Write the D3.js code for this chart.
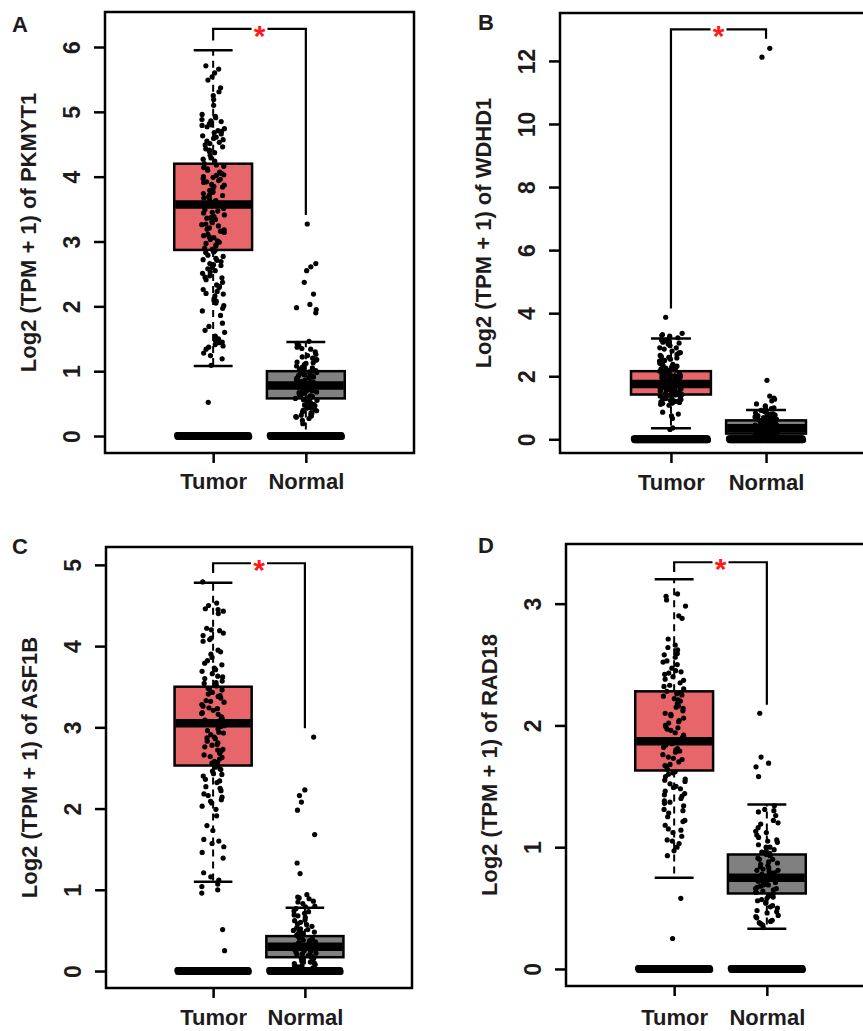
<!DOCTYPE html>
<html>
<head>
<meta charset="utf-8">
<script src="https://cdn.jsdelivr.net/npm/d3@7"></script>
<style>
  body { margin: 0; background: #fff; }
  text { font-family: "Liberation Sans", Arial, sans-serif; font-weight: bold; fill: #1e1b1c; }
</style>
</head>
<body>
<script>
// ---- data ----
var categories = ["Tumor", "Normal"];
var genes = ["PKMYT1", "WDHD1", "ASF1B", "RAD18"];
var panelLetters = ["A", "B", "C", "D"];

var yTicksA = [0, 1, 2, 3, 4, 5, 6];
var yTicksB = [0, 2, 4, 6, 8, 10, 12];
var yTicksC = [0, 1, 2, 3, 4, 5];
var yTicksD = [0, 1, 2, 3];

// [lower whisker, Q1, median, Q3, upper whisker] for Tumor, Normal
var boxStatsA = [[1.08, 2.87, 3.57, 4.2, 5.95], [0, 0.58, 0.78, 1.0, 1.45]];
var boxStatsB = [[0.35, 1.42, 1.75, 2.16, 3.2], [0, 0.18, 0.35, 0.6, 0.93]];
var boxStatsC = [[1.1, 2.53, 3.05, 3.5, 4.78], [0, 0.17, 0.3, 0.43, 0.78]];
var boxStatsD = [[0.75, 1.63, 1.87, 2.28, 3.2], [0.33, 0.62, 0.75, 0.94, 1.35]];

// number of samples sitting at 0 (Tumor, Normal)
var zerosA = [170, 160];
var zerosB = [170, 160];
var zerosC = [170, 160];
var zerosD = [170, 160];

// significance bracket: [top, left end, right end]
var bracketA = [6.28, 6.1, 3.41];
var bracketB = [13.0, 4.15, 12.7];
var bracketC = [5.02, 4.9, 2.99];
var bracketD = [3.34, 3.26, 2.17];

var tumorA = [5.71, 5.66, 5.6, 5.54, 5.49, 5.37, 5.31, 5.25, 5.19, 5.1,
  4.96, 4.93, 4.91, 4.86, 4.85, 4.82, 4.8, 4.77, 4.74, 4.71, 4.7, 4.66, 4.63, 4.61, 4.57, 4.55,
  4.53, 4.49, 4.46, 4.43, 4.41, 4.37, 4.33, 4.29, 4.24, 4.2, 4.18, 4.16, 4.12, 4.1, 4.07, 4.05,
  4.02, 4.0, 3.99, 3.96, 3.94, 3.91, 3.88, 3.87, 3.84, 3.81, 3.79, 3.76, 3.74, 3.71, 3.69, 3.66,
  3.63, 3.62, 3.59, 3.56, 3.54, 3.51, 3.49, 3.47, 3.44, 3.41, 3.39, 3.37, 3.34, 3.31, 3.29, 3.26,
  3.24, 3.21, 3.19, 3.16, 3.14, 3.11, 3.09, 3.06, 3.03, 3.01, 2.99, 2.95, 2.93, 2.9, 2.88, 2.86,
  2.83, 2.79, 2.77, 2.74, 2.71, 2.69, 2.66, 2.63, 2.6, 2.58, 2.55, 2.51, 2.47, 2.44, 2.41, 2.37,
  2.33, 2.29, 2.26, 2.23, 2.19, 2.16, 2.12, 2.08, 2.05, 2.01, 1.97, 1.93, 1.86, 1.74, 1.69, 1.63,
  1.6, 1.54, 1.5, 1.47, 1.44, 1.41, 1.37, 1.34, 1.28, 1.24, 1.19, 1.09, 0.52,
  4.88, 4.79, 4.68, 4.59, 4.51, 4.39, 4.27, 4.14, 4.03, 3.97, 3.92, 3.85, 3.78, 3.72, 3.67, 3.61,
  3.55, 3.45, 3.36, 3.27, 3.18, 3.07, 2.97, 2.84, 2.72, 2.64, 2.53, 2.45, 2.31, 2.2, 2.09, 1.45, 1.39];
var normalA = [3.27, 2.66, 2.61, 2.55, 2.37, 2.19, 2.03, 1.98, 1.95, 1.9,
  1.46, 1.43, 1.4, 1.37, 1.34, 1.3, 1.26, 1.22, 1.2, 1.17, 1.14, 1.12, 1.1, 1.08, 1.06, 1.04,
  1.03, 1.01, 1.0, 0.98, 0.97, 0.96, 0.94, 0.93, 0.92, 0.9, 0.89, 0.88, 0.86, 0.85, 0.84, 0.83,
  0.82, 0.81, 0.8, 0.79, 0.78, 0.77, 0.76, 0.75, 0.74, 0.73, 0.72, 0.71, 0.7, 0.69, 0.68, 0.67,
  0.66, 0.65, 0.63, 0.62, 0.61, 0.59, 0.58, 0.56, 0.55, 0.53, 0.51, 0.49, 0.47, 0.45, 0.43, 0.41,
  0.39, 0.37, 0.35, 0.33, 0.31, 0.29, 0.27, 0.24, 0.19,
  1.05, 0.99, 0.95, 0.91, 0.87, 0.84, 0.8, 0.78, 0.76, 0.73, 0.7, 0.68, 0.64, 0.6, 0.57, 0.52,
  0.48, 0.44, 0.4, 0.36, 0.32, 0.3, 1.13, 1.18, 1.24, 1.35];

var tumorB = [3.87, 3.36, 3.3, 3.27, 3.22, 3.17, 3.12, 3.08, 3.02, 2.97, 2.9, 2.86, 2.8, 2.74,
  2.69, 2.66, 2.62, 2.58, 2.54, 2.5, 2.47, 2.44, 2.41, 2.38, 2.35, 2.32, 2.29, 2.26, 2.23, 2.2,
  2.18, 2.16, 2.14, 2.12, 2.1, 2.08, 2.06, 2.04, 2.02, 2.0, 1.98, 1.96, 1.94, 1.92, 1.9, 1.88,
  1.86, 1.84, 1.82, 1.8, 1.78, 1.76, 1.74, 1.72, 1.7, 1.68, 1.66, 1.64, 1.62, 1.6, 1.58, 1.56,
  1.54, 1.52, 1.5, 1.48, 1.46, 1.44, 1.42, 1.4, 1.38, 1.35, 1.32, 1.29, 1.26, 1.23, 1.2, 1.17,
  1.14, 1.11, 1.08, 0.86, 0.8, 0.74, 0.66, 0.36, 0.31,
  2.9, 2.75, 2.6, 2.48, 2.4, 2.3, 2.22, 2.15, 2.09, 2.03, 1.97, 1.91, 1.85, 1.79, 1.73, 1.67,
  1.61, 1.55, 1.49, 1.43, 1.37, 1.3, 1.22, 1.15, 1.95, 1.83, 1.71, 1.59, 2.01, 1.88, 1.77, 1.65,
  1.53, 1.41, 1.28, 1.19, 3.05, 3.15, 3.32];
var normalB = [12.4, 12.12, 1.87, 1.37, 1.31, 1.27, 1.06, 1.02, 0.97, 0.93, 0.9, 0.87, 0.84,
  0.81, 0.78, 0.75, 0.72, 0.7, 0.67, 0.64, 0.62, 0.6, 0.58, 0.56, 0.54, 0.52, 0.5, 0.48, 0.46,
  0.44, 0.42, 0.4, 0.38, 0.36, 0.34, 0.32, 0.3, 0.28, 0.26, 0.24, 0.22, 0.2, 0.18, 0.16, 0.14,
  0.12, 0.1, 0.08, 0.06,
  0.92, 0.86, 0.8, 0.74, 0.69, 0.65, 0.61, 0.57, 0.53, 0.49, 0.45, 0.41, 0.37, 0.33, 0.29, 0.25,
  0.21, 0.17, 0.13, 0.09, 0.05, 0.55, 0.47, 0.39, 0.31, 0.23, 0.15, 0.07, 0.51, 0.43, 0.35, 0.27,
  0.19, 0.11, 0.63, 0.71, 0.77, 1.0, 1.12, 1.22];

var tumorC = [4.79, 4.53, 4.5, 4.46, 4.43, 4.4, 4.22, 4.19, 4.16, 4.13, 4.1, 4.06, 3.93, 3.9,
  3.86, 3.82, 3.77, 3.73, 3.69, 3.66, 3.63, 3.6, 3.57, 3.54, 3.51, 3.48, 3.46, 3.43, 3.41, 3.38,
  3.36, 3.33, 3.31, 3.28, 3.26, 3.23, 3.21, 3.18, 3.16, 3.13, 3.11, 3.08, 3.06, 3.03, 3.01, 2.98,
  2.96, 2.93, 2.91, 2.88, 2.86, 2.83, 2.81, 2.78, 2.76, 2.73, 2.71, 2.68, 2.66, 2.63, 2.61, 2.58,
  2.56, 2.53, 2.51, 2.48, 2.46, 2.43, 2.4, 2.36, 2.32, 2.27, 2.22, 2.18, 2.14, 2.11, 2.07, 2.03,
  1.99, 1.91, 1.79, 1.73, 1.62, 1.57, 1.53, 1.46, 1.39, 1.21, 1.16, 1.12, 1.07, 1.04, 1.0, 0.96,
  0.51, 0.25,
  3.95, 3.79, 3.71, 3.62, 3.55, 3.47, 3.39, 3.32, 3.24, 3.17, 3.09, 3.02, 2.94, 2.87, 2.79, 2.72,
  2.64, 2.57, 2.49, 2.42, 2.34, 2.25, 2.16, 2.09, 4.08, 4.2, 4.45, 1.6];
var normalC = [2.88, 2.23, 2.16, 2.08, 1.98, 1.68, 1.33, 1.2, 0.94, 0.91, 0.89, 0.86, 0.83, 0.8,
  0.77, 0.74, 0.71, 0.69, 0.66, 0.63, 0.6, 0.58, 0.55, 0.53, 0.51, 0.49, 0.47, 0.45, 0.43, 0.41,
  0.39, 0.37, 0.35, 0.33, 0.31, 0.3, 0.28, 0.27, 0.25, 0.23, 0.22, 0.2, 0.18, 0.17, 0.15, 0.13,
  0.11, 0.09, 0.07, 0.05,
  0.9, 0.85, 0.79, 0.73, 0.68, 0.62, 0.57, 0.52, 0.48, 0.44, 0.4, 0.36, 0.32, 0.29, 0.26, 0.24,
  0.21, 0.19, 0.16, 0.14, 0.12, 0.1, 0.08, 0.06, 0.04, 0.34, 0.38, 0.42, 0.46, 0.5];

var tumorD = [3.08, 3.06, 3.03, 2.98, 2.9, 2.88, 2.71, 2.66, 2.62, 2.59, 2.56, 2.53, 2.5, 2.47,
  2.44, 2.42, 2.4, 2.37, 2.35, 2.33, 2.3, 2.28, 2.26, 2.24, 2.22, 2.2, 2.18, 2.16, 2.14, 2.12,
  2.1, 2.08, 2.06, 2.04, 2.02, 2.0, 1.98, 1.96, 1.94, 1.92, 1.9, 1.88, 1.86, 1.84, 1.82, 1.8,
  1.78, 1.76, 1.74, 1.72, 1.7, 1.68, 1.66, 1.64, 1.62, 1.6, 1.58, 1.56, 1.54, 1.52, 1.5, 1.48,
  1.46, 1.44, 1.42, 1.4, 1.38, 1.36, 1.34, 1.31, 1.28, 1.25, 1.21, 1.18, 1.15, 1.12, 1.09, 1.06,
  1.03, 1.0, 0.97, 0.93, 0.58, 0.25,
  2.58, 2.52, 2.45, 2.38, 2.32, 2.27, 2.21, 2.15, 2.09, 2.03, 1.97, 1.91, 1.85, 1.79, 1.73, 1.67,
  1.61, 1.55, 1.49, 1.43, 1.37, 1.3, 1.22, 1.14, 1.05, 2.64, 2.43, 2.25, 1.99, 1.81];
var normalD = [2.1, 1.74, 1.69, 1.66, 1.58, 1.34, 1.31, 1.29, 1.26, 1.22, 1.19, 1.16, 1.13, 1.1,
  1.08, 1.06, 1.04, 1.02, 1.0, 0.98, 0.96, 0.94, 0.93, 0.91, 0.9, 0.88, 0.87, 0.85, 0.84, 0.82,
  0.81, 0.8, 0.79, 0.78, 0.77, 0.76, 0.75, 0.74, 0.73, 0.72, 0.71, 0.7, 0.69, 0.68, 0.67, 0.66,
  0.65, 0.64, 0.63, 0.62, 0.6, 0.59, 0.57, 0.56, 0.54, 0.52, 0.5, 0.48, 0.46, 0.44, 0.42, 0.4,
  0.38, 0.36, 0.34,
  1.3, 1.2, 1.12, 1.05, 1.0, 0.95, 0.9, 0.86, 0.83, 0.79, 0.76, 0.72, 0.69, 0.66, 0.63, 0.58,
  0.55, 0.51, 0.47, 0.43, 0.39, 0.37, 0.74, 0.81, 0.97];

var boxColors = ["#e7666a", "#808080"];

// ---- layout ----
var width = 863, height = 1031;

var panels = [
  { x0: 105, x1: 414, y0: 12, y1: 453, dom: [-0.262, 6.54], ticks: yTicksA, stats: boxStatsA,
    pts: [tumorA, normalA], zeros: zerosA, bracket: bracketA, lx: 12, ly: 32, labY: 36 },
  { x0: 560, x1: 877, y0: 13, y1: 453, dom: [-0.435, 13.52], ticks: yTicksB, stats: boxStatsB,
    pts: [tumorB, normalB], zeros: zerosB, bracket: bracketB, lx: 478, ly: 30, labY: 37 },
  { x0: 106, x1: 412, y0: 547, y1: 988, dom: [-0.209, 5.22], ticks: yTicksC, stats: boxStatsC,
    pts: [tumorC, normalC], zeros: zerosC, bracket: bracketC, lx: 12, ly: 554, labY: 37 },
  { x0: 566, x1: 875, y0: 544, y1: 986, dom: [-0.14, 3.49], ticks: yTicksD, stats: boxStatsD,
    pts: [tumorD, normalD], zeros: zerosD, bracket: bracketD, lx: 478, ly: 553, labY: 39 }
];

var svg = d3.select("body").append("svg")
    .attr("width", width)
    .attr("height", height);

// deterministic jitter in [0,1)
function frac(i, k) {
    var s = Math.sin(i * 12.9898 + k * 78.233) * 43758.5453;
    return s - Math.floor(s);
}

panels.forEach(function (p, pi) {
    var g = svg.append("g");

    var y = d3.scaleLinear().domain(p.dom).range([p.y1, p.y0]);
    var x = d3.scalePoint().domain(categories).range([p.x0, p.x1]).padding(1.167);
    var bw = x.step() * 0.84;

    //Boxes
    categories.forEach(function (c, ci) {
        var s = p.stats[ci], cx = x(c);
        var bg = g.append("g");

        // whiskers (dashed) and caps
        bg.append("line")
            .attr("x1", cx).attr("x2", cx)
            .attr("y1", y(s[3])).attr("y2", y(s[4]))
            .attr("stroke", "#000").attr("stroke-width", 2).attr("stroke-dasharray", "7,5");
        bg.append("line")
            .attr("x1", cx).attr("x2", cx)
            .attr("y1", y(s[1])).attr("y2", y(s[0]))
            .attr("stroke", "#000").attr("stroke-width", 2).attr("stroke-dasharray", "7,5");
        [s[0], s[4]].forEach(function (v) {
            bg.append("line")
                .attr("x1", cx - bw / 4).attr("x2", cx + bw / 4)
                .attr("y1", y(v)).attr("y2", y(v))
                .attr("stroke", "#000").attr("stroke-width", 2.5);
        });

        bg.append("rect")
            .attr("x", cx - bw / 2).attr("width", bw)
            .attr("y", y(s[3])).attr("height", y(s[1]) - y(s[3]))
            .attr("fill", boxColors[ci])
            .attr("stroke", "#000").attr("stroke-width", 2.5);

        bg.append("line")
            .attr("x1", cx - bw / 2 + 1).attr("x2", cx + bw / 2 - 1)
            .attr("y1", y(s[2])).attr("y2", y(s[2]))
            .attr("stroke", "#000").attr("stroke-width", 8.5);
    });

    //Points
    categories.forEach(function (c, ci) {
        var cx = x(c), zn = p.zeros[ci], zw = bw - 6;
        g.append("g").selectAll("circle.pt")
            .data(p.pts[ci])
            .enter().append("circle")
            .attr("cx", function (d, i) { return cx + (frac(i + ci * 300 + pi * 1000, 1) - 0.5) * 23; })
            .attr("cy", function (d) { return y(d); })
            .attr("r", 2.6)
            .attr("fill", "#000");

        // samples at 0 spread across the full box width
        g.append("g").selectAll("circle.zero")
            .data(d3.range(zn))
            .enter().append("circle")
            .attr("cx", function (d, i) { return cx - zw / 2 + zw * i / (zn - 1); })
            .attr("cy", function (d, i) { return y(0) + (i % 2 ? 0.8 : -0.8); })
            .attr("r", 3.2)
            .attr("fill", "#000");
    });

    //Frame
    g.append("rect")
        .attr("x", p.x0).attr("y", p.y0)
        .attr("width", p.x1 - p.x0).attr("height", p.y1 - p.y0)
        .attr("fill", "none").attr("stroke", "#000").attr("stroke-width", 2.5);

    //Y axis
    var ya = g.append("g")
        .attr("transform", "translate(" + p.x0 + ",0)")
        .call(d3.axisLeft(y).tickValues(p.ticks).tickSize(11).tickSizeOuter(0).tickFormat(d3.format("d")))
        .attr("font-size", null).attr("font-family", null);
    ya.select(".domain").remove();
    ya.selectAll("line").attr("stroke", "#000").attr("stroke-width", 2.5);
    ya.selectAll("text")
        .attr("x", null).attr("dy", null)
        .attr("text-anchor", "middle")
        .attr("transform", "translate(-25,0) rotate(-90)")
        .style("font-size", "23px");

    //X axis
    var xa = g.append("g")
        .attr("transform", "translate(0," + p.y1 + ")")
        .call(d3.axisBottom(x).tickSize(10).tickSizeOuter(0))
        .attr("font-size", null).attr("font-family", null);
    xa.select(".domain").remove();
    xa.selectAll("line").attr("stroke", "#000").attr("stroke-width", 2.5);
    xa.selectAll("text")
        .attr("y", p.labY).attr("dy", null)
        .style("font-size", "22px");

    //Y title
    g.append("text")
        .attr("transform", "translate(" + (p.x0 - 69) + "," + ((p.y0 + p.y1) / 2) + ") rotate(-90)")
        .attr("text-anchor", "middle")
        .style("font-size", "22px")
        .text("Log2 (TPM + 1) of " + genes[pi]);

    //Panel letter
    g.append("text")
        .attr("x", p.lx).attr("y", p.ly)
        .style("font-size", "22px")
        .text(panelLetters[pi]);

    //Significance bracket
    var xt = x(categories[0]), xn = x(categories[1]), mid = (xt + xn) / 2, by = y(p.bracket[0]);
    g.append("path")
        .attr("d", "M" + xt + "," + y(p.bracket[1]) + "V" + by + "H" + (mid - 8) +
                   "M" + (mid + 8) + "," + by + "H" + xn + "V" + y(p.bracket[2]))
        .attr("fill", "none").attr("stroke", "#000").attr("stroke-width", 2.2);
    g.append("text")
        .attr("x", mid).attr("y", by + 17)
        .attr("text-anchor", "middle")
        .style("font-size", "30px")
        .style("fill", "#ff1a1a")
        .text("*");
});
</script>
</body>
</html>
